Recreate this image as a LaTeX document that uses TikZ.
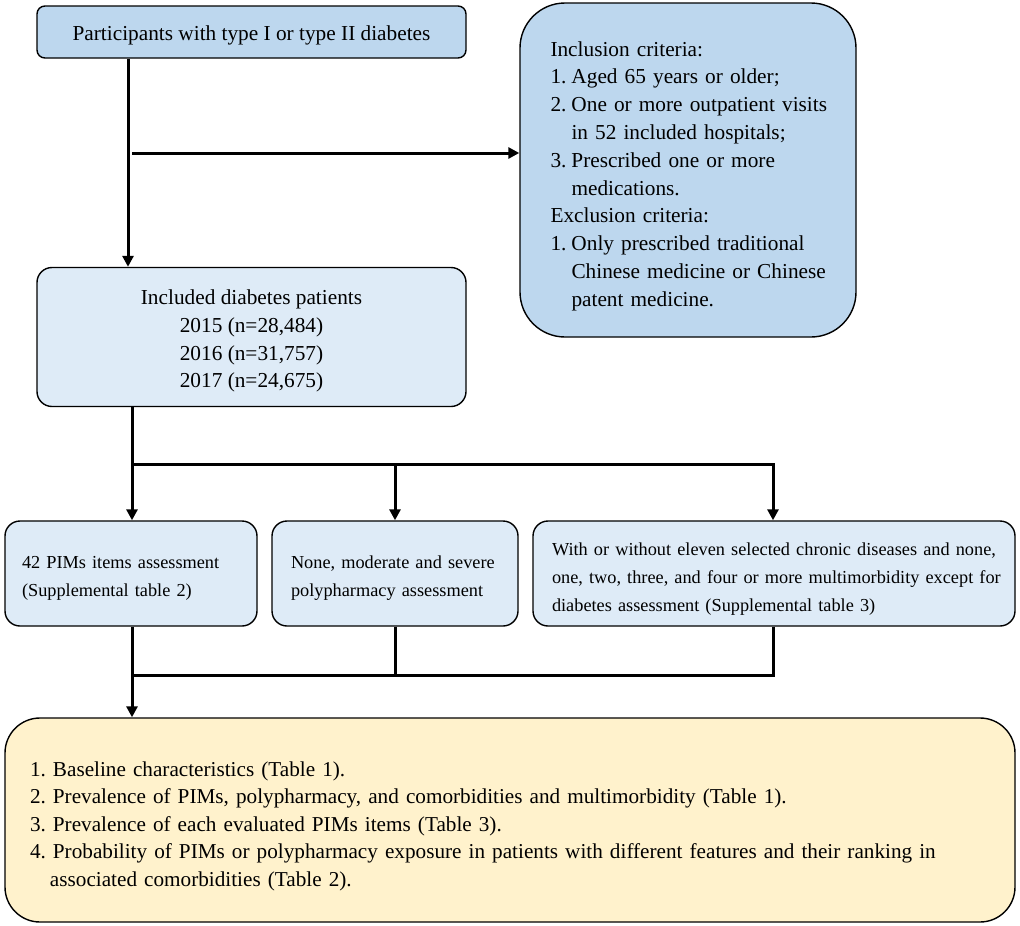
\documentclass[tikz,border=0pt]{standalone}
\usepackage{fontspec}
\setmainfont{Liberation Serif}
\usetikzlibrary{arrows.meta}
\definecolor{bluedark}{RGB}{189,215,238}
\definecolor{bluelight}{RGB}{222,235,247}
\definecolor{yellowbox}{RGB}{255,242,204}
\newcommand{\topstrut}[1]{\rule{0pt}{#1}}
\begin{document}
\frenchspacing
\begin{tikzpicture}[x=1pt,y=-1pt,
  boxbase/.style={draw=black, line width=1.4pt, inner ysep=0pt},
  bigfont/.style={font=\fontsize{21.3}{27.8}\selectfont\frenchspacing},
  smallfont/.style={font=\fontsize{18.3}{27.6}\selectfont\frenchspacing},
  conn/.style={line width=3pt, line join=miter},
  arr/.style={conn, -{Triangle[width=11pt,length=11pt]}}
]
\useasboundingbox (0,0) rectangle (1020,926);

% boxes
\node[boxbase, bigfont, fill=bluedark, rounded corners=8pt,
      minimum width=429pt, minimum height=52pt, align=center]
      (b1) at (251.5,32) {\topstrut{22pt}Participants with type I or type II diabetes};

\node[boxbase, bigfont, fill=bluedark, rounded corners=45pt,
      minimum width=336pt, minimum height=334pt, text width=275pt,
      inner xsep=30.5pt, align=left]
      (rb) at (688,170) {\topstrut{27pt}Inclusion criteria:\\
      \mbox{\makebox[21pt][l]{1.}Aged 65 years or older;}\\
      \mbox{\makebox[21pt][l]{2.}One or more outpatient visits}\\
      \mbox{\hspace*{21pt}in 52 included hospitals;}\\
      \mbox{\makebox[21pt][l]{3.}Prescribed one or more}\\
      \mbox{\hspace*{21pt}medications.}\\
      Exclusion criteria:\\
      \mbox{\makebox[21pt][l]{1.}Only prescribed traditional}\\
      \mbox{\hspace*{21pt}Chinese medicine or Chinese}\\
      \mbox{\hspace*{21pt}patent medicine.}};

\node[boxbase, bigfont, fill=bluelight, rounded corners=15pt,
      minimum width=429pt, minimum height=139pt, align=center]
      (b2) at (251.5,337) {\topstrut{23pt}Included diabetes patients\\
      2015 (n=28,484)\\
      2016 (n=31,757)\\
      2017 (n=24,675)};

\node[boxbase, smallfont, fill=bluelight, rounded corners=15pt,
      minimum width=252pt, minimum height=105pt, text width=218pt,
      inner xsep=17pt, align=left]
      (b3a) at (131,573.5) {\topstrut{22pt}\mbox{42 PIMs items assessment}\\
      \mbox{(Supplemental table 2)}};

\node[boxbase, smallfont, fill=bluelight, rounded corners=15pt,
      minimum width=246pt, minimum height=105pt, text width=208pt,
      inner xsep=19pt, align=left]
      (b3b) at (395,573.5) {\topstrut{22pt}\mbox{None, moderate and severe}\\
      \mbox{polypharmacy assessment}};

\node[boxbase, smallfont, fill=bluelight, rounded corners=15pt,
      minimum width=482pt, minimum height=105pt, text width=444pt,
      inner xsep=19pt, align=left]
      (b3c) at (774,573.5) {\topstrut{24pt}\mbox{With or without eleven selected chronic diseases and none,}\\
      \mbox{one, two, three, and four or more multimorbidity except for}\\
      \mbox{diabetes assessment (Supplemental table 3)}};

\node[boxbase, font=\fontsize{21.2}{27.5}\selectfont\frenchspacing, fill=yellowbox, rounded corners=35pt,
      minimum width=1010pt, minimum height=204pt, text width=960pt,
      inner xsep=25pt, align=left]
      (b4) at (510,820) {\topstrut{27pt}1. Baseline characteristics (Table 1).\\
      \mbox{2. Prevalence of PIMs, polypharmacy, and comorbidities and multimorbidity (Table 1).}\\
      3. Prevalence of each evaluated PIMs items (Table 3).\\
      \mbox{4. Probability of PIMs or polypharmacy exposure in patients with different features and their ranking in}\\
      \hspace*{20pt}associated comorbidities (Table 2).};

% junction coordinates
\coordinate (xa) at (128,0);
\coordinate (h1) at (132,153);
\coordinate (xb) at (132,0);
\coordinate (xm) at (395,0);
\coordinate (j1) at (132,464);
\coordinate (j1r) at (773,464);
\coordinate (j2) at (132,675);
\coordinate (j2r) at (773,675);

% connectors
\draw[arr] (b1.south -| xa) -- (b2.north -| xa);
\draw[arr] (h1) -- (h1 -| rb.west);

\draw[arr] (b2.south -| xb) -- (b3a.north -| xb);
\draw[arr] (j1) -- (j1r) -- (b3c.north -| j1r);
\draw[arr] (j1 -| xm) -- (b3b.north -| xm);

\draw[arr] (b3a.south -| xb) -- (b4.north -| xb);
\draw[conn] (b3c.south -| j2r) -- (j2r) -- (j2);
\draw[conn] (b3b.south -| xm) -- (j2 -| xm);
\end{tikzpicture}
\end{document}
